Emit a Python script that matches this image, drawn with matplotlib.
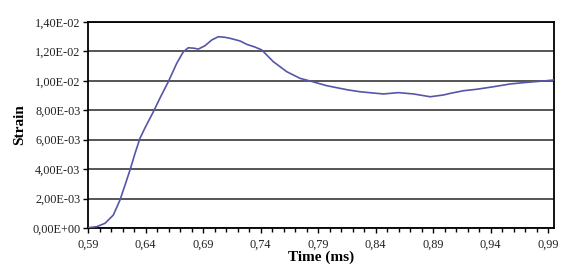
import matplotlib
matplotlib.use("Agg")
import matplotlib.pyplot as plt
from matplotlib.ticker import FuncFormatter, MultipleLocator, FixedLocator

time_ms = [0.5900, 0.5976, 0.6048, 0.6120, 0.6178, 0.6222, 0.6265, 0.6309, 0.6352, 0.6395,
           0.6468, 0.6530, 0.6598, 0.6671, 0.6729, 0.6772, 0.6820, 0.6859, 0.6917, 0.6976,
           0.7033, 0.7091, 0.7135, 0.7222, 0.7280, 0.7350, 0.7410, 0.7511, 0.7628, 0.7743,
           0.7830, 0.7976, 0.8091, 0.8163, 0.8265, 0.8370, 0.8468, 0.8598, 0.8729, 0.8874,
           0.8990, 0.9048, 0.9164, 0.9280, 0.9424, 0.9570, 0.9715, 0.9859, 0.9950]
strain = [0.00002, 0.00009, 0.00032, 0.00088, 0.00190, 0.00292, 0.00394, 0.00508, 0.00610, 0.00680,
          0.00790, 0.00890, 0.00994, 0.01119, 0.01198, 0.01225, 0.01222, 0.01216, 0.01239, 0.01278,
          0.01300, 0.01296, 0.01289, 0.01271, 0.01248, 0.01230, 0.01210, 0.01130, 0.01062, 0.01017,
          0.00999, 0.00967, 0.00949, 0.00938, 0.00926, 0.00918, 0.00911, 0.00920, 0.00911, 0.00892,
          0.00904, 0.00915, 0.00933, 0.00943, 0.00960, 0.00979, 0.00990, 0.00999, 0.01006]
x_ticks = [0.59, 0.64, 0.69, 0.74, 0.79, 0.84, 0.89, 0.94, 0.99]
y_ticks = [0.0, 0.002, 0.004, 0.006, 0.008, 0.010, 0.012, 0.014]

plt.rcParams['font.family'] = ['Liberation Serif', 'DejaVu Serif']

fig = plt.figure(figsize=(5.76, 2.80), dpi=100)
ax = fig.add_axes([88/576, 52/280, (554-88)/576, (228-22)/280])

ax.plot(time_ms, strain, color='#5656a8', lw=1.2, zorder=3,
        solid_joinstyle='round', solid_capstyle='round')

ax.set_xlim(0.59, 0.995)
ax.set_ylim(0, 0.014)
ax.xaxis.set_major_locator(FixedLocator(x_ticks))
ax.xaxis.set_minor_locator(MultipleLocator(0.01))
ax.yaxis.set_major_locator(FixedLocator(y_ticks))

ax.xaxis.set_major_formatter(FuncFormatter(lambda v, p: f"{v:.2f}".replace('.', ',')))
ax.yaxis.set_major_formatter(FuncFormatter(lambda v, p: f"{v:.2E}".replace('.', ',')))

ax.grid(axis='y', color='#555555', lw=1.4, zorder=1)
for s in ax.spines.values():
    s.set_color('black')
    s.set_linewidth(1.3)

ax.tick_params(axis='both', which='major', labelsize=8.8, length=3.5, width=1,
               direction='out', colors='black', labelcolor='#222222')
ax.tick_params(axis='x', which='minor', length=3, width=1, direction='out')
ax.tick_params(axis='x', pad=4)
ax.tick_params(axis='y', pad=2)

ax.set_xlabel('Time (ms)', fontsize=11, fontweight='bold', labelpad=0)
ax.set_ylabel('Strain', fontsize=11, fontweight='bold', labelpad=4)

fig.savefig('out.png', dpi=100)
